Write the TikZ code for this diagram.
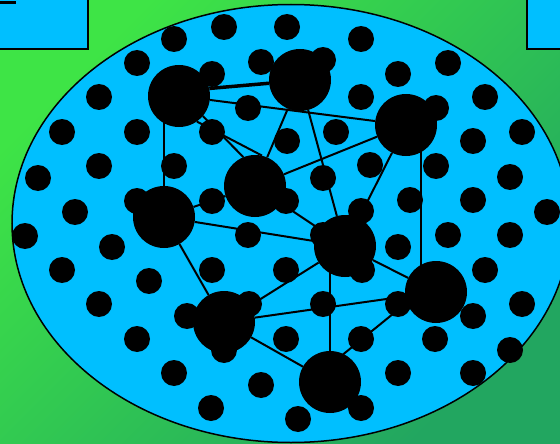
\documentclass[tikz,border=0pt]{standalone}
\usetikzlibrary{calc}
\pgfdeclarelayer{back}
\pgfdeclarelayer{edges}
\pgfsetlayers{back,edges,main}
\definecolor{gA}{RGB}{62,228,70}
\definecolor{gB}{RGB}{34,166,96}
\definecolor{sky}{RGB}{0,191,255}
\begin{document}
\begin{tikzpicture}[x=1pt,y=-1pt,
  hub/.style={circle,fill=black,inner sep=0pt,minimum size=62pt},
  dot/.style={circle,fill=black,inner sep=0pt,minimum size=26pt},
  link/.style={line width=2pt},
  boldlink/.style={line width=3.5pt},
  panel/.style={fill=sky,draw=black,line width=1.5pt}]
\useasboundingbox (0,0) rectangle (560,444);
\begin{pgfonlayer}{back}
\shade[top color=gA,bottom color=gB,shading angle=45] (0,0) rectangle (560,444);
\draw[panel] (-10,-10) rectangle (88,49);
\draw[panel] (527,-10) rectangle (575,49);
\draw[line width=3pt] (0,3) -- (16,3);
\draw[panel] (291,223.5) ellipse [x radius=279pt, y radius=219pt];
\end{pgfonlayer}
% small dots
\foreach \x/\y [count=\i] in {174/39, 224/27, 287/27, 361/39, 137/63, 212/74, 261/62, 323/60, 398/74, 448/63,
  99/97, 248/108, 361/97, 436/108, 485/97, 62/132, 137/132, 212/132, 287/141, 336/132,
  473/141, 522/132, 38/178, 99/166, 174/166, 370/165, 436/166, 323/178, 510/177, 137/201,
  212/201, 286/201, 410/200, 473/200, 547/212, 75/212, 361/211, 25/236, 112/247, 248/235,
  323/235, 398/247, 448/235, 510/235, 62/270, 149/281, 212/270, 286/270, 362/270, 485/270,
  99/304, 187/316, 249/304, 323/304, 398/304, 473/316, 522/304, 137/339, 224/350, 286/339,
  361/339, 435/339, 510/350, 174/373, 261/385, 398/373, 473/373, 211/408, 298/419, 361/408}
  \node[dot] (d\i) at (\x,\y) {};
% hubs
\node[hub] (A) at (179,96) {};
\node[hub] (B) at (300,80) {};
\node[hub] (C) at (406,125) {};
\node[hub] (D) at (255,186) {};
\node[hub] (E) at (164,217) {};
\node[hub] (F) at (345,246) {};
\node[hub] (G) at (436,292) {};
\node[hub] (H) at (224,322) {};
\node[hub] (I) at (330,382) {};
\begin{pgfonlayer}{edges}
\draw[boldlink] (A.14) -- (B.186);
\draw[link] (A) -- (C);
\draw[link] (A.-40) -- (D.112);
\draw[link] (A.-55) -- (D.77);
\draw[link] (E) -- (E |- A);
\draw[link] (B) -- (D);
\draw[link] (B) -- (F);
\draw[link] (C) -- (D);
\draw[link] (C) -- (F);
\draw[link] ([xshift=15pt]C.center) -- ([xshift=-15pt]G.center);
\draw[link] (D) -- (E);
\draw[link] (D) -- (F);
\draw[link] (E) -- (F);
\draw[link] (E) -- (H);
\draw[link] (F) -- (H);
\draw[link] (F) -- (G);
\draw[link] (I) -- (I |- F);
\draw[link] (H) -- (G);
\draw[link] (H) -- (I);
\draw[link] ([yshift=17pt]I.center) -- ([yshift=13pt]G.center);
\end{pgfonlayer}
\end{tikzpicture}
\end{document}
